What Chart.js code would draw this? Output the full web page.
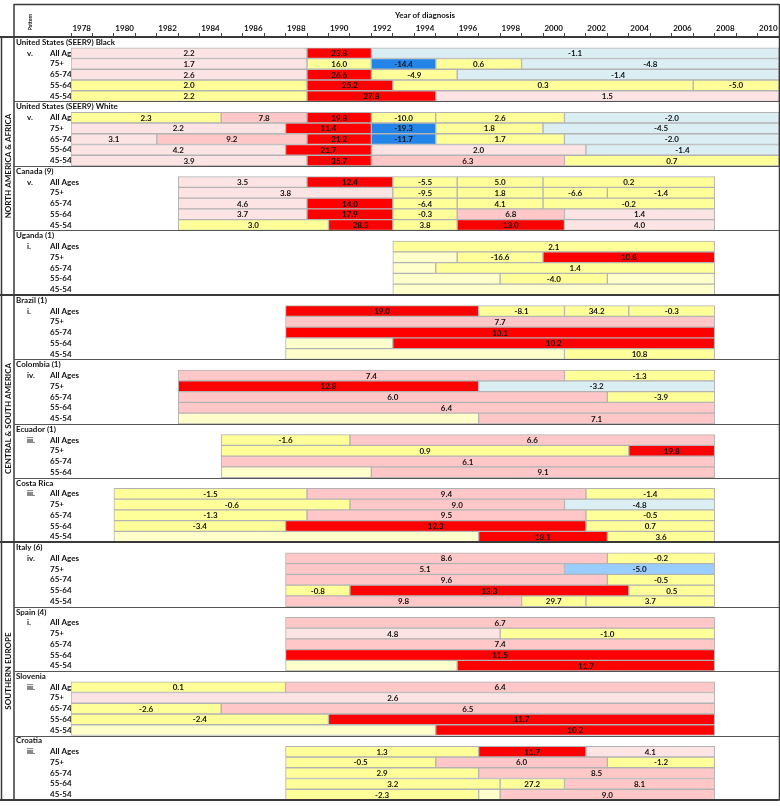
<!DOCTYPE html>
<html>
<head>
<meta charset="utf-8">
<script src="https://cdn.jsdelivr.net/npm/chart.js@4.4.1/dist/chart.umd.min.js"></script>
<style>
  html, body { margin: 0; padding: 0; background: #fff; }
  #wrap { width: 780px; height: 811px; }
</style>
</head>
<body>
<div id="wrap"><canvas id="myChart" width="780" height="811"></canvas></div>
<script>
// year axis (one cell per year of diagnosis)
const firstYear = 1978;
const lastYear = 2010;

const regionNames = ['NORTH AMERICA & AFRICA', 'CENTRAL & SOUTH AMERICA', 'SOUTHERN EUROPE'];
const regionGroupCount = [4, 4, 4];
const groupNames = ['United States (SEER9) Black', 'United States (SEER9) White', 'Canada (9)', 'Uganda (1)',
  'Brazil (1)', 'Colombia (1)', 'Ecuador (1)', 'Costa Rica',
  'Italy (6)', 'Spain (4)', 'Slovenia', 'Croatia'];
const groupPatterns = ['v.', 'v.', 'v.', 'i.', 'i.', 'iv.', 'iii.', 'iii.', 'iv.', 'i.', 'iii.', 'iii.'];
const ageGroups = ['All Ages', '75+', '65-74', '55-64', '45-54'];

// colour class of a segment
const segmentColors = {
  r: '#ff0000',   // large significant increase
  p: '#ffc7c7',   // significant increase
  lp: '#fde4e4',  // small significant increase
  y: '#ffff99',   // not significant
  py: '#ffffcc',  // not estimated
  lb: '#daeef3',  // small significant decrease
  mb: '#99ccff',  // significant decrease
  b: '#2385e8'    // large significant decrease
};

// segments per age row: [first year, last year, APC, colour class]
const usBlack = [
  [[1978, 1988, 2.2, 'lp'], [1989, 1991, 23.8, 'r'], [1992, 2010, -1.1, 'lb']],
  [[1978, 1988, 1.7, 'lp'], [1989, 1991, 16.0, 'y'], [1992, 1994, -14.4, 'b'], [1995, 1998, 0.6, 'y'], [1999, 2010, -4.8, 'lb']],
  [[1978, 1988, 2.6, 'lp'], [1989, 1991, 26.6, 'r'], [1992, 1995, -4.9, 'y'], [1996, 2010, -1.4, 'lb']],
  [[1978, 1988, 2.0, 'y'], [1989, 1992, 25.2, 'r'], [1993, 2006, 0.3, 'y'], [2007, 2010, -5.0, 'y']],
  [[1978, 1988, 2.2, 'y'], [1989, 1994, 27.8, 'r'], [1995, 2010, 1.5, 'lp']]
];
const usWhite = [
  [[1978, 1984, 2.3, 'y'], [1985, 1988, 7.8, 'p'], [1989, 1991, 19.8, 'r'], [1992, 1994, -10.0, 'y'], [1995, 2000, 2.6, 'y'], [2001, 2010, -2.0, 'lb']],
  [[1978, 1987, 2.2, 'lp'], [1988, 1991, 11.4, 'r'], [1992, 1994, -19.3, 'b'], [1995, 1999, 1.8, 'y'], [2000, 2010, -4.5, 'lb']],
  [[1978, 1981, 3.1, 'lp'], [1982, 1988, 9.2, 'p'], [1989, 1991, 21.2, 'r'], [1992, 1994, -11.7, 'b'], [1995, 2000, 1.7, 'y'], [2001, 2010, -2.0, 'lb']],
  [[1978, 1987, 4.2, 'lp'], [1988, 1991, 21.7, 'r'], [1992, 2001, 2.0, 'lp'], [2002, 2010, -1.4, 'lb']],
  [[1978, 1988, 3.9, 'lp'], [1989, 1991, 35.7, 'r'], [1992, 2000, 6.3, 'p'], [2001, 2010, 0.7, 'y']]
];
const canada = [
  [[1983, 1988, 3.5, 'lp'], [1989, 1992, 12.4, 'r'], [1993, 1995, -5.5, 'y'], [1996, 1999, 5.0, 'y'], [2000, 2007, 0.2, 'y']],
  [[1983, 1992, 3.8, 'lp'], [1993, 1995, -9.5, 'y'], [1996, 1999, 1.8, 'y'], [2000, 2002, -6.6, 'y'], [2003, 2007, -1.4, 'y']],
  [[1983, 1988, 4.6, 'lp'], [1989, 1992, 14.0, 'r'], [1993, 1995, -6.4, 'y'], [1996, 1999, 4.1, 'y'], [2000, 2007, -0.2, 'y']],
  [[1983, 1988, 3.7, 'lp'], [1989, 1992, 17.9, 'r'], [1993, 1995, -0.3, 'y'], [1996, 2000, 6.8, 'p'], [2001, 2007, 1.4, 'lp']],
  [[1983, 1989, 3.0, 'y'], [1990, 1992, 28.3, 'r'], [1993, 1995, 3.8, 'y'], [1996, 2000, 13.0, 'r'], [2001, 2007, 4.0, 'lp']]
];
const uganda = [
  [[1993, 2007, 2.1, 'y']],
  [[1993, 1995, null, 'py'], [1996, 1999, -16.6, 'y'], [2000, 2007, 10.8, 'r']],
  [[1993, 1994, null, 'py'], [1995, 2007, 1.4, 'y']],
  [[1993, 1997, null, 'py'], [1998, 2002, -4.0, 'y'], [2003, 2007, null, 'py']],
  [[1993, 2007, null, 'py']]
];
const brazil = [
  [[1988, 1996, 19.0, 'r'], [1997, 2000, -8.1, 'y'], [2001, 2003, 34.2, 'y'], [2004, 2007, -0.3, 'y']],
  [[1988, 2007, 7.7, 'p']],
  [[1988, 2007, 10.1, 'r']],
  [[1988, 1992, null, 'py'], [1993, 2007, 10.2, 'r']],
  [[1988, 2000, null, 'py'], [2001, 2007, 10.8, 'y']]
];
const colombia = [
  [[1983, 2000, 7.4, 'p'], [2001, 2007, -1.3, 'y']],
  [[1983, 1996, 12.8, 'r'], [1997, 2007, -3.2, 'lb']],
  [[1983, 2002, 6.0, 'p'], [2003, 2007, -3.9, 'y']],
  [[1983, 2007, 6.4, 'p']],
  [[1983, 1996, null, 'py'], [1997, 2007, 7.1, 'p']]
];
const ecuador = [
  [[1985, 1990, -1.6, 'y'], [1991, 2007, 6.6, 'p']],
  [[1985, 2003, 0.9, 'y'], [2004, 2007, 19.8, 'r']],
  [[1985, 2007, 6.1, 'p']],
  [[1985, 1991, null, 'py'], [1992, 2007, 9.1, 'p']]
];
const costaRica = [
  [[1980, 1988, -1.5, 'y'], [1989, 2001, 9.4, 'p'], [2002, 2007, -1.4, 'y']],
  [[1980, 1990, -0.6, 'y'], [1991, 2000, 9.0, 'p'], [2001, 2007, -4.8, 'lb']],
  [[1980, 1988, -1.3, 'y'], [1989, 2001, 9.5, 'p'], [2002, 2007, -0.5, 'y']],
  [[1980, 1987, -3.4, 'y'], [1988, 2001, 12.3, 'r'], [2002, 2007, 0.7, 'y']],
  [[1980, 1996, null, 'py'], [1997, 2002, 18.1, 'r'], [2003, 2007, 3.6, 'y']]
];
const italy = [
  [[1988, 2002, 8.6, 'p'], [2003, 2007, -0.2, 'y']],
  [[1988, 2000, 5.1, 'p'], [2001, 2007, -5.0, 'mb']],
  [[1988, 2002, 9.6, 'p'], [2003, 2007, -0.5, 'y']],
  [[1988, 1990, -0.8, 'y'], [1991, 2003, 13.3, 'r'], [2004, 2007, 0.5, 'y']],
  [[1988, 1998, 9.8, 'p'], [1999, 2001, 29.7, 'y'], [2002, 2007, 3.7, 'y']]
];
const spain = [
  [[1988, 2007, 6.7, 'p']],
  [[1988, 1997, 4.8, 'lp'], [1998, 2007, -1.0, 'y']],
  [[1988, 2007, 7.4, 'p']],
  [[1988, 2007, 11.5, 'r']],
  [[1988, 1995, null, 'py'], [1996, 2007, 11.7, 'r']]
];
const slovenia = [
  [[1978, 1987, 0.1, 'y'], [1988, 2007, 6.4, 'p']],
  [[1978, 2007, 2.6, 'lp']],
  [[1978, 1984, -2.6, 'y'], [1985, 2007, 6.5, 'p']],
  [[1978, 1989, -2.4, 'y'], [1990, 2007, 11.7, 'r']],
  [[1978, 1994, null, 'py'], [1995, 2007, 10.2, 'r']]
];
const croatia = [
  [[1988, 1996, 1.3, 'y'], [1997, 2001, 11.7, 'r'], [2002, 2007, 4.1, 'lp']],
  [[1988, 1994, -0.5, 'y'], [1995, 2002, 6.0, 'p'], [2003, 2007, -1.2, 'y']],
  [[1988, 1996, 2.9, 'y'], [1997, 2007, 8.5, 'p']],
  [[1988, 1997, 3.2, 'y'], [1998, 2000, 27.2, 'y'], [2001, 2007, 8.1, 'p']],
  [[1988, 1996, -2.3, 'y'], [1997, 1997, null, 'py'], [1998, 2007, 9.0, 'p']]
];
const groupSegments = [usBlack, usWhite, canada, uganda, brazil, colombia, ecuador, costaRica,
  italy, spain, slovenia, croatia];

// one row for each country title, then one per age group
const rowLabels = [];
const rowInfo = [];
const groupStart = [];
groupNames.forEach((name, g) => {
  groupStart.push(rowInfo.length);
  rowLabels.push(name);
  rowInfo.push({ kind: 'title', group: g, segs: [] });
  groupSegments[g].forEach((segs, a) => {
    rowLabels.push(name + ' / ' + ageGroups[a]);
    rowInfo.push({ kind: 'age', group: g, age: a, segs: segs });
  });
});
groupStart.push(rowInfo.length);

const maxSegs = Math.max(...rowInfo.map(r => r.segs.length));
const datasets = [];
for (let k = 0; k < maxSegs; k++) {
  datasets.push({
    data: rowInfo.map(r => r.segs[k] ? [r.segs[k][0] - 0.5, r.segs[k][1] + 0.5] : null),
    apc: rowInfo.map(r => r.segs[k] ? r.segs[k][2] : null),
    backgroundColor: rowInfo.map(r => r.segs[k] ? segmentColors[r.segs[k][3]] : 'rgba(0,0,0,0)'),
    borderColor: '#b3b3b3',
    borderWidth: 1,
    borderSkipped: false,
    barPercentage: 1,
    categoryPercentage: 1,
    grouped: false
  });
}

const FONT = 'Lato, "Liberation Sans", sans-serif';

function rowEdge(yScale, i) {
  const band = (yScale.bottom - yScale.top) / rowInfo.length;
  return yScale.top + i * band;
}

const tablePlugin = {
  id: 'tableText',
  beforeDatasetsDraw(chart) {
    const ctx = chart.ctx;
    const y = chart.scales.y;
    ctx.save();
    ctx.fillStyle = '#111';
    ctx.textBaseline = 'middle';
    ctx.textAlign = 'left';
    ctx.font = 'bold 8px ' + FONT;
    rowInfo.forEach((r, i) => {
      const py = y.getPixelForValue(i);
      if (r.kind === 'title') {
        ctx.fillText(groupNames[r.group], 16, py);
      } else {
        ctx.fillText(ageGroups[r.age], 50, py);
        if (r.age === 0) ctx.fillText(groupPatterns[r.group], 27, py);
      }
    });
    ctx.restore();
  },
  afterDatasetsDraw(chart) {
    const ctx = chart.ctx;
    ctx.save();
    ctx.fillStyle = '#111';
    ctx.textBaseline = 'middle';
    ctx.textAlign = 'center';
    ctx.font = 'bold 8px ' + FONT;
    chart.data.datasets.forEach((ds, d) => {
      const meta = chart.getDatasetMeta(d);
      meta.data.forEach((bar, i) => {
        const v = ds.apc[i];
        if (v === null || v === undefined) return;
        const p = bar.getProps(['x', 'base', 'y'], true);
        ctx.fillText(v.toFixed(1), (p.x + p.base) / 2, p.y + 0.5);
      });
    });
    ctx.restore();
  },
  afterDraw(chart) {
    const ctx = chart.ctx;
    const y = chart.scales.y;
    const area = chart.chartArea;
    const R = area.right + 0.5;
    ctx.save();
    ctx.strokeStyle = '#3a3a3a';
    const line = (x1, y1, x2, y2, w) => {
      ctx.lineWidth = w;
      ctx.beginPath();
      ctx.moveTo(x1, y1);
      ctx.lineTo(x2, y2);
      ctx.stroke();
    };
    // frame
    line(14, 4.5, R, 4.5, 1.5);
    line(14, 4, 14, area.bottom, 1.5);
    line(R, 4, R, area.bottom, 1.5);
    line(0, area.top, R, area.top, 2);
    line(1.5, area.top, 1.5, area.bottom, 1.5);
    line(0, area.bottom, R, area.bottom, 2);
    // group and region separators
    let g = 0;
    regionGroupCount.forEach((n, r) => {
      const top = rowEdge(y, groupStart[g]);
      for (let k = 1; k < n; k++) {
        const yy = Math.round(rowEdge(y, groupStart[g + k])) + 0.5;
        ctx.strokeStyle = '#555';
        line(14, yy, R, yy, 1.2);
      }
      g += n;
      const bottom = rowEdge(y, groupStart[g]);
      ctx.strokeStyle = '#3a3a3a';
      if (r < regionGroupCount.length - 1) line(0, Math.round(bottom), R, Math.round(bottom), 2);
      ctx.save();
      ctx.translate(8, (top + bottom) / 2);
      ctx.rotate(-Math.PI / 2);
      ctx.fillStyle = '#111';
      ctx.textAlign = 'center';
      ctx.textBaseline = 'middle';
      ctx.font = 'bold 8px ' + FONT;
      ctx.fillText(regionNames[r], 0, 0);
      ctx.restore();
    });
    // column header
    ctx.save();
    ctx.translate(30, 22);
    ctx.rotate(-Math.PI / 2);
    ctx.fillStyle = '#111';
    ctx.textAlign = 'center';
    ctx.textBaseline = 'middle';
    ctx.font = 'bold 5px ' + FONT;
    ctx.fillText('Pattern', 0, 0);
    ctx.restore();
    ctx.restore();
  }
};

const config = {
  type: 'bar',
  data: { labels: rowLabels, datasets: datasets },
  plugins: [tablePlugin],
  options: {
    indexAxis: 'y',
    responsive: false,
    devicePixelRatio: 1,
    animation: false,
    layout: { padding: { left: 71, right: 1, top: 4, bottom: 11 } },
    plugins: { legend: { display: false }, tooltip: { enabled: false } },
    scales: {
      x: {
        type: 'linear',
        position: 'top',
        min: firstYear - 0.5,
        max: lastYear + 0.5,
        afterBuildTicks(scale) {
          const t = [];
          for (let v = firstYear - 0.5; v <= lastYear + 0.5; v += 0.5) t.push({ value: v });
          scale.ticks = t;
        },
        afterFit(scale) { scale.height = 33; },
        ticks: {
          autoSkip: false,
          maxRotation: 0,
          minRotation: 0,
          padding: 0,
          color: '#111',
          font: { family: FONT, size: 8, weight: 'bold' },
          callback: v => (Number.isInteger(v) && v % 2 === 0) ? String(v) : ''
        },
        grid: {
          drawOnChartArea: false,
          tickLength: 4,
          tickColor: c => (c.tick && !Number.isInteger(c.tick.value)) ? '#444' : 'rgba(0,0,0,0)'
        },
        border: { display: false },
        title: {
          display: true,
          text: 'Year of diagnosis',
          color: '#111',
          font: { family: FONT, size: 8, weight: 'bold' },
          padding: { top: 7, bottom: 0 }
        }
      },
      y: { type: 'category', display: false, offset: true }
    }
  }
};

const myChart = new Chart(document.getElementById('myChart'), config);
</script>
</body>
</html>
